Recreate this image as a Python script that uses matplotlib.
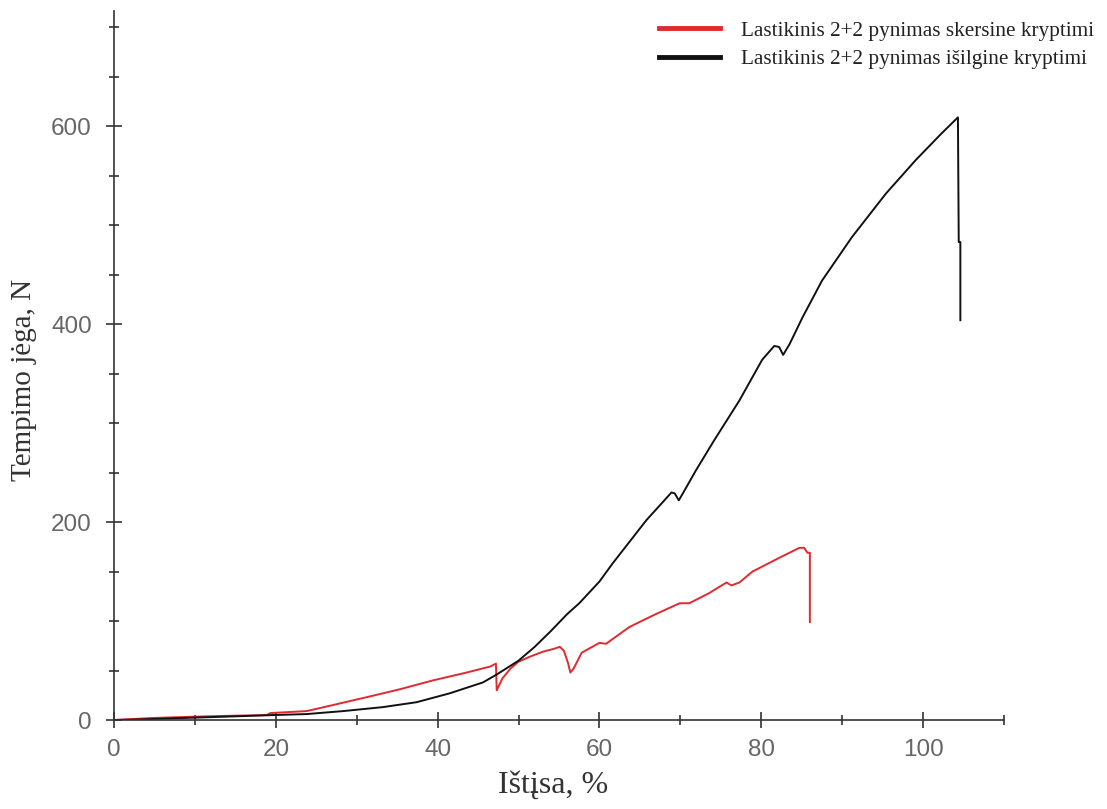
import matplotlib.pyplot as plt
from matplotlib.ticker import MultipleLocator
import matplotlib.lines as mlines

# Lastikinis 2+2 pynimas skersine kryptimi (red)
skers_x = [0, 4.7, 8.4, 12.8, 18.9, 19.3, 23.8, 27, 31.2, 35.3, 39.4, 43.6, 45.5, 46.5, 47.2,
           47.3, 48, 49, 50, 51.4, 53, 54.4, 55.1, 55.6, 56.1, 56.4, 56.8, 57.8, 60, 60.8,
           63.7, 66.7, 69.9, 71.1, 73.5, 75.7, 76.3, 77.3, 78.9, 82, 84.7, 85.3, 85.7, 86.0, 86.0]
skers_y = [0, 2, 3, 4, 5, 7, 9, 15, 23, 31, 40, 48, 52, 54, 57,
           30, 42, 52, 59, 64, 69, 72, 74, 70, 58, 48, 52, 68, 78, 77,
           94, 106, 118, 118, 128, 139, 136, 139, 150, 163, 174, 174, 169, 169, 99]

# Lastikinis 2+2 pynimas isilgine kryptimi (black)
isilg_x = [0, 3, 8.4, 12.3, 16, 19.6, 23.8, 28.3, 33.2, 37.4, 41.5, 45.6, 47.3, 50, 52, 54, 56,
           57.5, 60, 61.6, 63.7, 65.8, 67.8, 68.9, 69.3, 69.8, 70.3, 71.9, 74.2, 77.3, 80.1,
           81.6, 82.2, 82.7, 83.5, 85.1, 87.5, 91.2, 95.4, 99.1, 102.3, 104.3, 104.4, 104.6, 104.6]
isilg_y = [0, 0.5, 2, 3, 4, 5, 6, 9, 13, 18, 27, 38, 46, 60, 74, 90, 107,
           118, 140, 158, 180, 202, 220, 230, 229, 222, 229, 252, 283, 323, 364,
           378, 377, 369, 380, 407, 444, 488, 532, 566, 593, 609, 483, 483, 404]

red = '#e02a2f'
axis_col = '#333333'

fig = plt.figure(figsize=(11.07, 8.09), dpi=100)
ax = fig.add_axes([0.103, 0.110, 0.804, 0.877])

ax.plot(skers_x, skers_y, color=red, linewidth=1.4)
ax.plot(isilg_x, isilg_y, color='#111111', linewidth=1.4)

ax.set_xlim(0, 110)
ax.set_ylim(0, 717)
ax.xaxis.set_major_locator(MultipleLocator(20))
ax.xaxis.set_minor_locator(MultipleLocator(10))
ax.yaxis.set_major_locator(MultipleLocator(200))
ax.yaxis.set_minor_locator(MultipleLocator(50))

for s in ['top', 'right']:
    ax.spines[s].set_visible(False)
for s in ['left', 'bottom']:
    ax.spines[s].set_color(axis_col)
    ax.spines[s].set_linewidth(1.2)
    ax.spines[s].set_clip_on(False)

ax.tick_params(which='major', direction='inout', length=11, width=1.2, color=axis_col,
               labelsize=17.5, labelcolor='#666666')
ax.tick_params(which='minor', direction='inout', length=7, width=1.2, color=axis_col)
ax.tick_params(axis='y', which='major', pad=10.5)
ax.tick_params(axis='x', which='major', pad=8)
for lab in ax.get_xticklabels() + ax.get_yticklabels():
    lab.set_family('Liberation Sans')

ax.set_xlabel('Ištįsa, %', family='Liberation Serif', fontsize=23, color='#333333')
ax.set_ylabel('Tempimo jėga, N', family='Liberation Serif', fontsize=21, color='#333333')
ax.xaxis.set_label_coords(0.493, -0.072)
ax.yaxis.set_label_coords(-0.086, 0.48)

red_line = mlines.Line2D([], [], color=red, linewidth=3.5, label='Lastikinis 2+2 pynimas skersine kryptimi')
black_line = mlines.Line2D([], [], color='#111111', linewidth=3.5, label='Lastikinis 2+2 pynimas išilgine kryptimi')
fig.legend(handles=[red_line, black_line], loc='upper left', bbox_to_anchor=(0.578, 0.998),
           frameon=False, prop={'family': 'Liberation Serif', 'size': 15.3},
           handlelength=2.85, handletextpad=1.0, labelspacing=0.4, labelcolor='#222222')

fig.savefig('out.png', dpi=100)
